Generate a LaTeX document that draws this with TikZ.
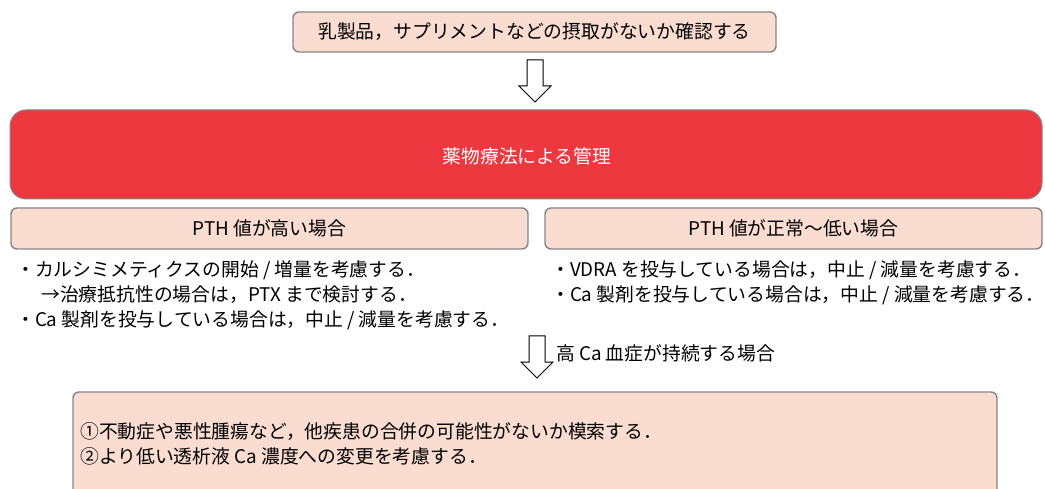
\documentclass[tikz,border=0pt]{standalone}
\usepackage{fontspec}
\setmainfont{Noto Sans CJK JP}
\usetikzlibrary{calc}
\definecolor{boxpink}{HTML}{FBDCD0}
\definecolor{boxline}{HTML}{858585}
\definecolor{mainred}{HTML}{EE3840}
\tikzset{
  x=1pt, y=-1pt,
  pinkbox/.style={draw=boxline, fill=boxpink, line width=1.4pt, rounded corners=6pt},
  redbox/.style={draw=boxline, fill=mainred, line width=1pt, rounded corners=16pt},
  jtext/.style={font=\fontsize{18.8}{25}\selectfont, inner sep=0pt},
  bullets/.style={jtext, align=left, anchor=west},
  blockarrow/.style={draw=black, fill=white, line width=1pt, line join=miter},
}
\newcommand{\openarrowat}[1]{%
  \draw[blockarrow] ($(#1)+(-8,0)$) -- ($(#1)+(8,0)$) -- ($(#1)+(8,26)$) -- ($(#1)+(16,26)$)
    -- ($(#1)+(0,42)$) -- ($(#1)+(-16,26)$) -- ($(#1)+(-8,26)$) -- cycle;}
\begin{document}
\begin{tikzpicture}
\useasboundingbox (0,0) rectangle (1045,489);
% top box
\draw[pinkbox] (293,12) rectangle (776,52);
\node[jtext] (top) at (534.5,32) {乳製品，サプリメントなどの摂取がないか確認する};
% arrow 1
\coordinate (a1) at (535,60);
\openarrowat{a1}
% red box
\draw[redbox] (10,110) rectangle (1042,199);
\node[jtext, text=white] (main) at (527,156) {薬物療法による管理};
% PTH boxes
\draw[pinkbox] (11,208) rectangle (528,249);
\node[jtext] (high) at (269.5,228.5) {PTH 値が高い場合};
\draw[pinkbox] (545,208) rectangle (1042,249);
\node[jtext] (low) at (793.5,228.5) {PTH 値が正常～低い場合};
% bullet texts
\node[bullets] (hightext) at (16,295) {・カルシミメティクスの開始 / 増量を考慮する．\\
\hspace{25pt}→治療抵抗性の場合は，PTX まで検討する．\\
・Ca 製剤を投与している場合は，中止 / 減量を考慮する．};
\node[bullets] (lowtext) at (551,283) {・VDRA を投与している場合は，中止 / 減量を考慮する．\\
・Ca 製剤を投与している場合は，中止 / 減量を考慮する．};
% arrow 2
\coordinate (a2) at (537,336);
\openarrowat{a2}
\node[jtext, anchor=west] (cond) at (556,353) {高 Ca 血症が持続する場合};
% bottom box
\draw[pinkbox] (73,392) rectangle (997,500);
\node[bullets] (bottomtext) at (80,444) {①不動症や悪性腫瘍など，他疾患の合併の可能性がないか模索する．\\
②より低い透析液 Ca 濃度への変更を考慮する．};
\end{tikzpicture}
\end{document}
